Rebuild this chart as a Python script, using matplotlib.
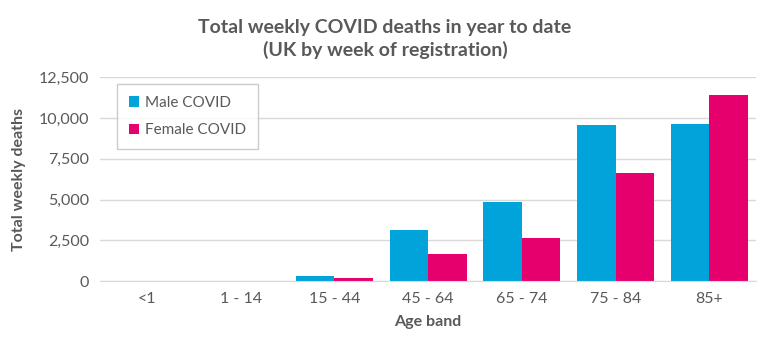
import numpy as np
import matplotlib.pyplot as plt
from matplotlib.ticker import FuncFormatter

plt.rcParams['font.family'] = ['Lato', 'DejaVu Sans']

age_bands = ["<1", "1 - 14", "15 - 44", "45 - 64", "65 - 74", "75 - 84", "85+"]
male_covid = [2, 8, 300, 3130, 4840, 9570, 9650]
female_covid = [1, 5, 190, 1650, 2640, 6640, 11400]

grey = '#595959'
male_colour = '#00A3DA'
female_colour = '#E5006E'

fig = plt.figure(figsize=(7.7, 3.43), dpi=100)
ax = fig.add_axes([0.13, 0.18, 0.852, 0.595])

x = np.arange(len(age_bands))
w = 0.41
ax.bar(x - w / 2, male_covid, w, color=male_colour, label='Male COVID')
ax.bar(x + w / 2, female_covid, w, color=female_colour, label='Female COVID')

ax.set_xlim(-0.5, len(age_bands) - 0.5)
ax.set_ylim(0, 12500)
ax.set_yticks(np.arange(0, 12501, 2500))
ax.yaxis.set_major_formatter(FuncFormatter(lambda v, p: f'{int(v):,}'))
ax.set_xticks(x)
ax.set_xticklabels(age_bands)

ax.grid(axis='y', color='#d9d9d9', linewidth=1)
ax.set_axisbelow(True)
for s in ['top', 'right', 'left']:
    ax.spines[s].set_visible(False)
ax.spines['bottom'].set_color('#d9d9d9')
ax.tick_params(axis='both', length=0, colors=grey, labelsize=11.5, pad=8)

ax.set_xlabel('Age band', fontsize=11.5, fontweight='bold', color=grey, labelpad=6)
ax.set_ylabel('Total weekly deaths', fontsize=11.5, fontweight='bold', color=grey, labelpad=9)

fig.suptitle('Total weekly COVID deaths in year to date\n(UK by week of registration)',
             x=0.5, y=0.945, fontsize=14, fontweight='bold', color=grey, linespacing=1.35)

leg = ax.legend(loc='upper left', bbox_to_anchor=(0.026, 0.966), borderaxespad=0,
                fontsize=11, frameon=True, fancybox=False, edgecolor='#bfbfbf',
                handlelength=0.7, handleheight=0.7, handletextpad=0.4,
                labelspacing=0.9, borderpad=0.75, labelcolor=grey)
leg.get_frame().set_linewidth(1)

fig.savefig('out.png', dpi=100)
